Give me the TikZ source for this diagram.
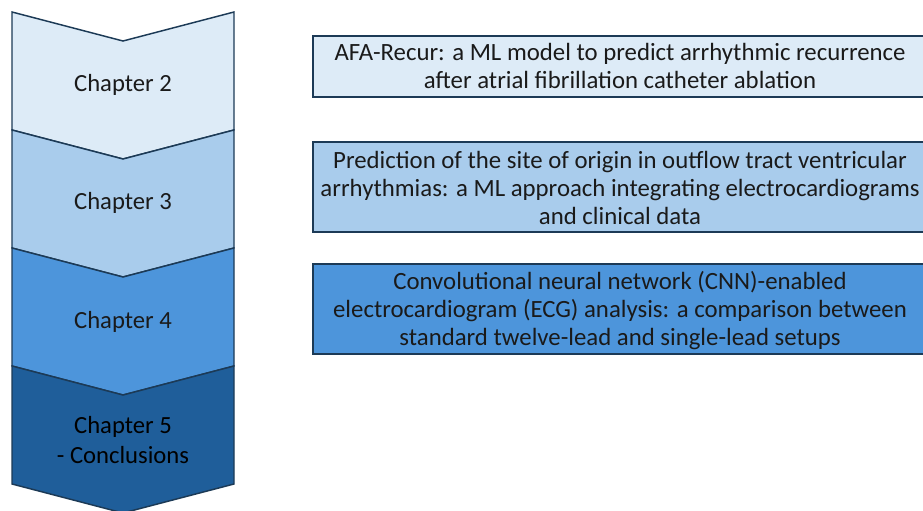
\documentclass[tikz,border=0pt]{standalone}
\usepackage{fontspec}
\setmainfont{Carlito}
\definecolor{cA}{HTML}{DDEBF7}
\definecolor{cB}{HTML}{A9CCEC}
\definecolor{cC}{HTML}{4D95DB}
\definecolor{cD}{HTML}{1F5E9A}
\definecolor{edge}{HTML}{1C3A56}
\definecolor{ink}{HTML}{1A1A1A}
\tikzset{
  chev/.style={draw=edge, line width=1.1pt, line join=miter},
  chaplabel/.style={text=ink, font=\fontsize{18.5}{22}\selectfont, align=center},
  infobox/.style={draw=edge, line width=1.1pt},
  infotext/.style={text=ink, font=\fontsize{18.6}{21}\selectfont, align=center}
}
\begin{document}
\begin{tikzpicture}[x=0.75pt,y=-0.75pt]
\useasboundingbox (0,0) rectangle (923,510);
\clip (0,0) rectangle (923,510);
% chevrons, drawn top to bottom so each lower one overlaps the point above
\foreach \i/\c in {0/cA,1/cB,2/cC,3/cD}{
  \pgfmathsetmacro{\t}{12+118*\i}
  \filldraw[chev, fill=\c] (12,\t) -- (123,\t+29) -- (234,\t) -- (234,\t+118) -- (123,\t+147) -- (12,\t+118) -- cycle;
}
\node[chaplabel] (ch2) at (123,85) {Chapter 2};
\node[chaplabel] (ch3) at (123,203) {Chapter 3};
\node[chaplabel] (ch4) at (123,322) {Chapter 4};
\node[chaplabel, text=black] (ch5) at (123,440) {Chapter 5\\- Conclusions};
% description boxes
\filldraw[infobox, fill=cA] (313,36) rectangle (940,97);
\filldraw[infobox, fill=cB] (313,142) rectangle (940,232);
\filldraw[infobox, fill=cC] (313,264) rectangle (940,354);
\node[infotext] (d2) at (620,66) {AFA-Recur: a ML model to predict arrhythmic recurrence\\after atrial fibrillation catheter ablation};
\node[infotext] (d3) at (620,188) {Prediction of the site of origin in outflow tract ventricular\\arrhythmias: a ML approach integrating electrocardiograms\\and clinical data};
\node[infotext] (d4) at (620,311) {Convolutional neural network (CNN)-enabled\\electrocardiogram (ECG) analysis: a comparison between\\standard twelve-lead and single-lead setups};
\end{tikzpicture}
\end{document}
